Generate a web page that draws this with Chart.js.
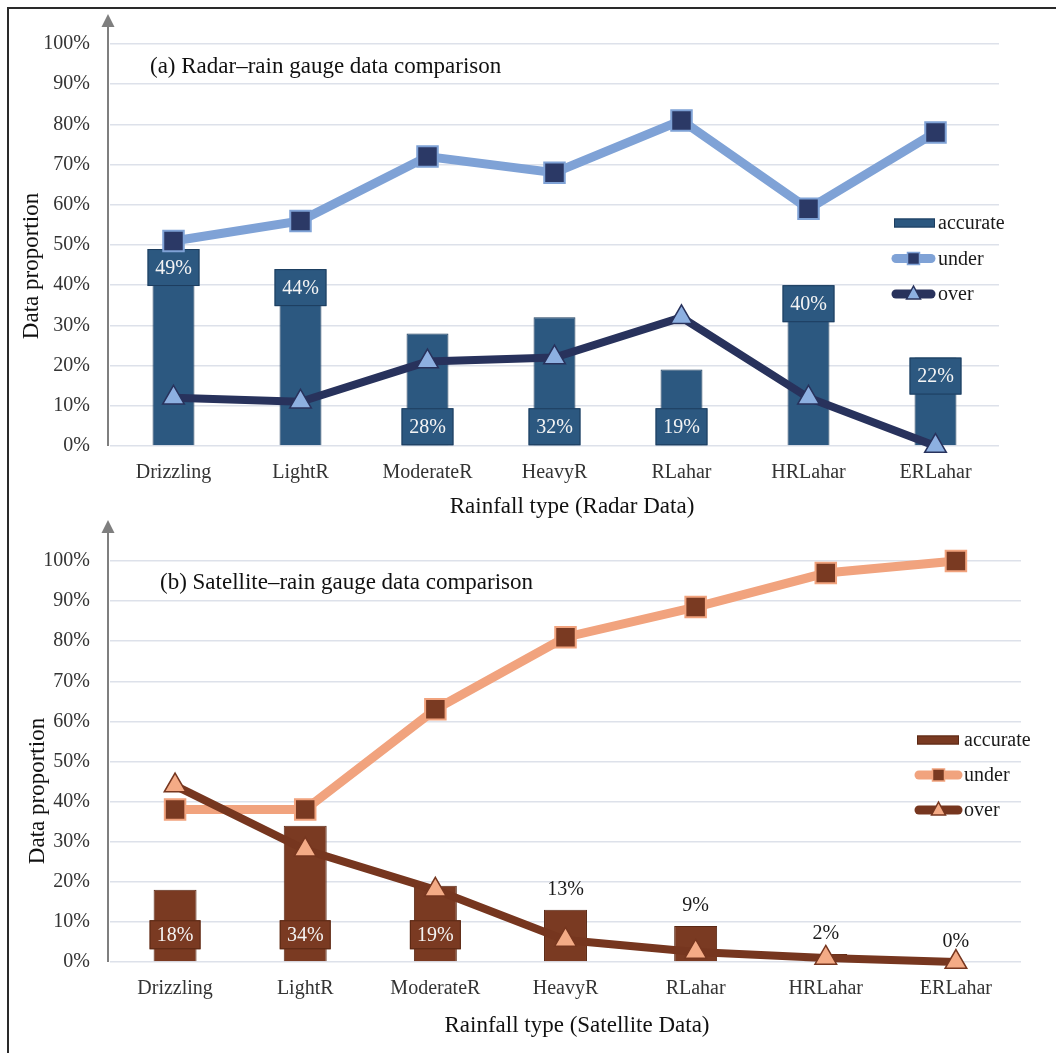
<!DOCTYPE html>
<html>
<head>
<meta charset="utf-8">
<title>Rainfall type data comparison</title>
<script src="https://cdn.jsdelivr.net/npm/chart.js@4.4.1/dist/chart.umd.min.js"></script>
<style>
  html, body { margin: 0; padding: 0; background: #fff; }
  body { width: 1056px; height: 1053px; position: relative; overflow: hidden; }
  #frame { position: absolute; left: 7px; top: 7px; width: 1100px; height: 1100px;
           border-top: 2px solid #2a2a2a; border-left: 2px solid #2a2a2a; }
  canvas { position: absolute; left: 0; }
  #radar { top: 0; }
  #satellite { top: 515px; }
</style>
</head>
<body>
<div id="frame"></div>
<canvas id="radar" width="1056" height="530"></canvas>
<canvas id="satellite" width="1056" height="538"></canvas>
<script>
const rainTypes = ["Drizzling", "LightR", "ModerateR", "HeavyR", "RLahar", "HRLahar", "ERLahar"];

// (a) radar vs rain gauge, percent of data
const radarAccurate = [49, 44, 28, 32, 19, 40, 22];
const radarUnder = [51, 56, 72, 68, 81, 59, 78];
const radarOver = [12, 11, 21, 22, 32, 12, 0];

// (b) satellite vs rain gauge, percent of data
const satAccurate = [18, 34, 19, 13, 9, 2, 0];
const satUnder = [38, 38, 63, 81, 88.5, 97, 100];
const satOver = [44, 28, 18, 5.5, 2.5, 1, 0];

const serif = "'Liberation Serif', 'Times New Roman', serif";

// draws the value boxes, the arrow axis, titles and the in-plot legend
const panelDecor = {
  id: "panelDecor",
  afterDatasetDraw(chart, args, opts) {
    if (args.index !== 0) return;
    const ctx = chart.ctx;
    const values = chart.data.datasets[0].data;
    ctx.save();
    ctx.font = "20px " + serif;
    ctx.textAlign = "center";
    ctx.textBaseline = "middle";
    args.meta.data.forEach((bar, i) => {
      const txt = values[i] + "%";
      const where = opts.labelPlace[i];
      if (where === "above") {
        ctx.fillStyle = "#1a1a1a";
        ctx.fillText(txt, bar.x, bar.y - 20);
        return;
      }
      const w = bar.width + opts.boxPad * 2;
      const top = where === "end" ? bar.y : bar.base - opts.baseGap - opts.boxH;
      ctx.fillStyle = opts.barColor;
      ctx.fillRect(bar.x - w / 2, top, w, opts.boxH);
      ctx.strokeStyle = opts.boxEdge;
      ctx.lineWidth = 1;
      ctx.strokeRect(bar.x - w / 2 + 0.5, top + 0.5, w - 1, opts.boxH - 1);
      ctx.fillStyle = "#f4f4f4";
      ctx.fillText(txt, bar.x, top + opts.boxH / 2 + 1);
    });
    ctx.restore();
  },
  afterDraw(chart, args, opts) {
    const ctx = chart.ctx;
    const area = chart.chartArea;
    const ax = area.left - 2;
    ctx.save();

    // y axis with arrow head
    ctx.strokeStyle = "#7f7f7f";
    ctx.fillStyle = "#7f7f7f";
    ctx.lineWidth = 2;
    ctx.beginPath();
    ctx.moveTo(ax, area.bottom);
    ctx.lineTo(ax, opts.arrowTip + 10);
    ctx.stroke();
    ctx.beginPath();
    ctx.moveTo(ax, opts.arrowTip);
    ctx.lineTo(ax - 6.5, opts.arrowTip + 13);
    ctx.lineTo(ax + 6.5, opts.arrowTip + 13);
    ctx.closePath();
    ctx.fill();

    // titles
    ctx.fillStyle = "#111";
    ctx.font = "23px " + serif;
    ctx.textBaseline = "middle";
    ctx.textAlign = "left";
    ctx.fillText(opts.title.text, opts.title.x, opts.title.y);
    ctx.textAlign = "center";
    ctx.fillText(opts.xTitle.text, opts.xTitle.x, opts.xTitle.y);
    ctx.save();
    ctx.translate(opts.yTitle.x, opts.yTitle.y);
    ctx.rotate(-Math.PI / 2);
    ctx.fillText("Data proportion", 0, 0);
    ctx.restore();

    // legend
    const lg = opts.legend;
    const ds = chart.data.datasets;
    ctx.beginPath();
    ctx.rect(0, 0, lg.clipRight, chart.height);
    ctx.clip();
    ctx.font = "20px " + serif;
    ctx.textAlign = "left";
    ds.forEach((d, i) => {
      const y = lg.y + i * lg.gap;
      ctx.fillStyle = "#1a1a1a";
      ctx.fillText(d.label, lg.textX, y + 1);
      if (d.type === "bar") {
        ctx.fillStyle = d.backgroundColor;
        ctx.fillRect(lg.rectX, y - 4.5, lg.rectW, 9);
        ctx.strokeStyle = d.borderColor;
        ctx.lineWidth = 1;
        ctx.strokeRect(lg.rectX + 0.5, y - 4, lg.rectW - 1, 8);
        return;
      }
      ctx.strokeStyle = d.borderColor;
      ctx.lineWidth = 9;
      ctx.lineCap = "round";
      ctx.beginPath();
      ctx.moveTo(lg.lineX + 4, y);
      ctx.lineTo(lg.lineX + lg.lineW - 4, y);
      ctx.stroke();
      const cx = lg.lineX + lg.lineW / 2;
      ctx.fillStyle = d.pointBackgroundColor;
      ctx.strokeStyle = d.pointBorderColor;
      ctx.lineWidth = 1.5;
      ctx.beginPath();
      if (d.pointStyle === "rect") {
        ctx.rect(cx - 6, y - 6, 12, 12);
      } else {
        ctx.moveTo(cx, y - 8);
        ctx.lineTo(cx - 7, y + 5);
        ctx.lineTo(cx + 7, y + 5);
        ctx.closePath();
      }
      ctx.fill();
      ctx.stroke();
    });
    ctx.restore();
  }
};

function buildPanel(id, accurate, under, over, look) {
  return new Chart(document.getElementById(id), {
    type: "bar",
    data: {
      labels: rainTypes,
      datasets: [
        {
          type: "bar", label: "accurate", data: accurate,
          backgroundColor: look.bar, borderColor: look.barEdge, borderWidth: 1,
          barPercentage: 0.33, categoryPercentage: 1, order: 3
        },
        {
          type: "line", label: "under", data: under, clip: false,
          borderColor: look.under, borderWidth: 9,
          pointStyle: "rect", pointRadius: 14.5,
          pointBackgroundColor: look.underMark, pointBorderColor: look.under, pointBorderWidth: 2,
          order: 2
        },
        {
          type: "line", label: "over", data: over, clip: false,
          borderColor: look.over, borderWidth: 8,
          pointStyle: "triangle", pointRadius: 12.5,
          pointBackgroundColor: look.overMark, pointBorderColor: look.over, pointBorderWidth: 1.5,
          order: 1
        }
      ]
    },
    options: {
      responsive: false,
      animation: false,
      layout: { padding: { top: look.top, right: look.right, left: 0, bottom: 0 } },
      plugins: {
        legend: { display: false },
        tooltip: { enabled: false },
        panelDecor: look.decor
      },
      scales: {
        x: {
          grid: { display: false },
          border: { display: false },
          ticks: { color: "#333", font: { family: serif, size: 20 }, padding: 7 },
          afterFit: s => { s.height = look.xHeight; }
        },
        y: {
          min: 0, max: 100,
          grid: { color: "#dde1ea", lineWidth: 1.5, drawTicks: false },
          border: { display: false },
          ticks: {
            stepSize: 10, padding: 20, color: "#333",
            font: { family: serif, size: 20 },
            callback: v => v + "%"
          },
          afterFit: s => { s.width = 110; }
        }
      }
    },
    plugins: [panelDecor]
  });
}

buildPanel("radar", radarAccurate, radarUnder, radarOver, {
  bar: "#2c5880", barEdge: "#1d3d5e",
  under: "#7fa2d6", underMark: "#2b3966",
  over: "#28325c", overMark: "#8db0e1",
  top: 44, right: 57, xHeight: 84,
  decor: {
    labelPlace: ["end", "end", "base", "base", "base", "end", "end"],
    barColor: "#2c5880", boxEdge: "#1d3d5e", boxPad: 5, boxH: 37, baseGap: 0,
    arrowTip: 14,
    title: { text: "(a) Radar\u2013rain gauge data comparison", x: 150, y: 67 },
    xTitle: { text: "Rainfall type (Radar Data)", x: 572, y: 507 },
    yTitle: { x: 32, y: 266 },
    legend: { y: 223, gap: 35.5, rectX: 894, rectW: 41, lineX: 892, lineW: 43, textX: 938, clipRight: 1006 }
  }
});

buildPanel("satellite", satAccurate, satUnder, satOver, {
  bar: "#7a3a22", barEdge: "#5a2814",
  under: "#f1a37e", underMark: "#7a3a22",
  over: "#76361f", overMark: "#f4ab86",
  top: 46, right: 35, xHeight: 91,
  decor: {
    labelPlace: ["base", "base", "base", "above", "above", "above", "above"],
    barColor: "#7a3a22", boxEdge: "#5a2814", boxPad: 4, boxH: 29, baseGap: 12,
    arrowTip: 5,
    title: { text: "(b) Satellite\u2013rain gauge data comparison", x: 160, y: 68 },
    xTitle: { text: "Rainfall type (Satellite Data)", x: 577, y: 511 },
    yTitle: { x: 38, y: 276 },
    legend: { y: 225, gap: 35, rectX: 917, rectW: 42, lineX: 915, lineW: 47, textX: 964, clipRight: 1056 }
  }
});
</script>
</body>
</html>
